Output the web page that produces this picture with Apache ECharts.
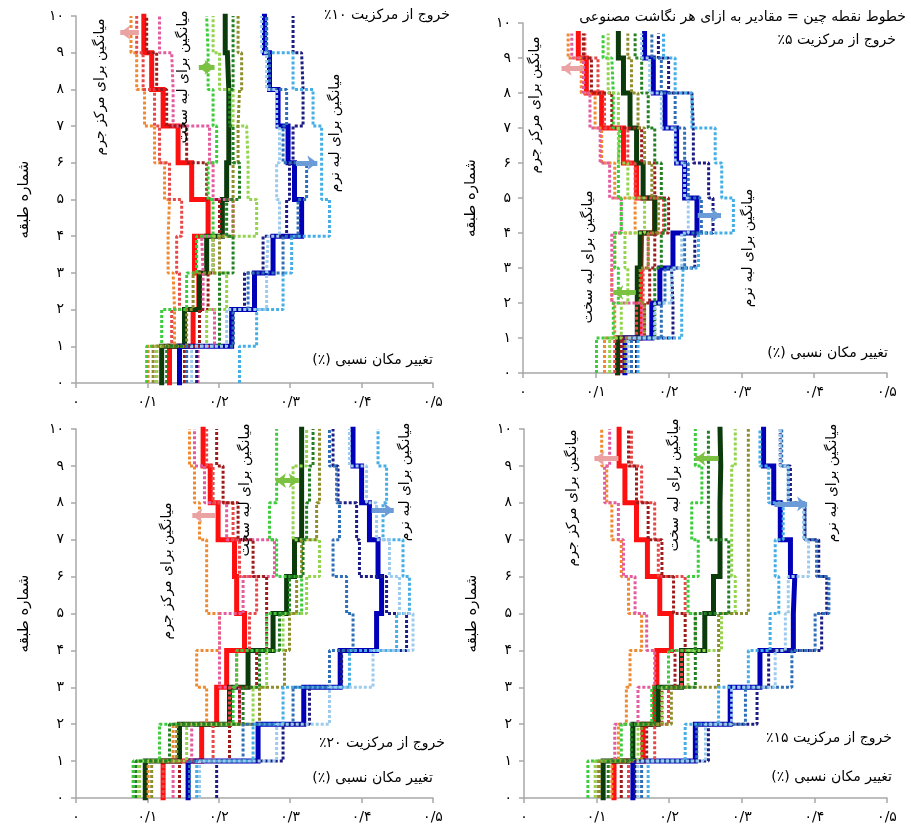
<!DOCTYPE html>
<html>
<head>
<meta charset="utf-8">
<script src="https://cdn.jsdelivr.net/npm/echarts@6/dist/echarts.min.js"></script>
<style>
html,body{margin:0;padding:0;background:#fff;}
#main{width:911px;height:828px;}
</style>
</head>
<body>
<div id="main" dir="rtl"></div>
<script>
// برچسب محورها
var xLabels = ['۰', '۰/۱', '۰/۲', '۰/۳', '۰/۴', '۰/۵'];
var yLabels = ['۰', '۱', '۲', '۳', '۴', '۵', '۶', '۷', '۸', '۹', '۱۰'];
var panelTitles = ['خروج از مرکزیت ۱۰٪', 'خروج از مرکزیت ۵٪', 'خروج از مرکزیت ۲۰٪', 'خروج از مرکزیت ۱۵٪'];
var topStory = [10, 9.7, 10, 10];

// میانگین ها (طبقه ۱ تا ۱۰)
var cm10 = [0.131, 0.164, 0.172, 0.166, 0.185, 0.162, 0.143, 0.122, 0.106, 0.095];
var stiff10 = [0.120, 0.152, 0.173, 0.183, 0.205, 0.211, 0.214, 0.214, 0.212, 0.209];
var flex10 = [0.145, 0.218, 0.250, 0.276, 0.316, 0.306, 0.297, 0.283, 0.271, 0.264];

var cm5 = [0.130, 0.161, 0.162, 0.163, 0.181, 0.156, 0.138, 0.108, 0.087, 0.076];
var stiff5 = [0.130, 0.157, 0.157, 0.161, 0.181, 0.165, 0.156, 0.147, 0.138, 0.131];
var flex5 = [0.140, 0.177, 0.188, 0.206, 0.239, 0.222, 0.211, 0.195, 0.179, 0.167];

var cm20 = [0.122, 0.176, 0.197, 0.211, 0.236, 0.225, 0.222, 0.199, 0.188, 0.178];
var stiff20 = [0.097, 0.145, 0.215, 0.241, 0.276, 0.295, 0.306, 0.316, 0.316, 0.316];
var flex20 = [0.157, 0.255, 0.319, 0.370, 0.421, 0.428, 0.423, 0.411, 0.400, 0.388];

var cm15 = [0.124, 0.164, 0.180, 0.183, 0.203, 0.187, 0.170, 0.155, 0.139, 0.131];
var stiff15 = [0.109, 0.150, 0.185, 0.217, 0.249, 0.261, 0.270, 0.270, 0.271, 0.270];
var flex15 = [0.150, 0.236, 0.284, 0.325, 0.371, 0.373, 0.367, 0.353, 0.344, 0.330];

// نگاشت های مصنوعی (خطوط نقطه چین)
var cmRec10 = [
    [0.101, 0.138, 0.136, 0.129, 0.131, 0.124, 0.110, 0.096, 0.085, 0.077],
    [0.171, 0.194, 0.178, 0.176, 0.220, 0.192, 0.187, 0.136, 0.134, 0.117],
    [0.113, 0.134, 0.145, 0.141, 0.148, 0.131, 0.117, 0.110, 0.094, 0.085],
    [0.152, 0.173, 0.185, 0.192, 0.201, 0.183, 0.155, 0.127, 0.113, 0.099]
];
var stiffRec10 = [
    [0.099, 0.120, 0.155, 0.169, 0.192, 0.185, 0.197, 0.192, 0.185, 0.183],
    [0.113, 0.183, 0.211, 0.192, 0.253, 0.241, 0.239, 0.220, 0.201, 0.192],
    [0.108, 0.155, 0.164, 0.201, 0.220, 0.220, 0.227, 0.229, 0.232, 0.227],
    [0.127, 0.201, 0.201, 0.220, 0.211, 0.229, 0.220, 0.215, 0.220, 0.220]
];
var flexRec10 = [
    [0.169, 0.220, 0.236, 0.262, 0.295, 0.299, 0.304, 0.318, 0.316, 0.304],
    [0.229, 0.253, 0.290, 0.302, 0.355, 0.344, 0.344, 0.332, 0.304, 0.267],
    [0.155, 0.220, 0.241, 0.290, 0.311, 0.323, 0.290, 0.295, 0.271, 0.267],
    [0.162, 0.211, 0.267, 0.269, 0.285, 0.281, 0.285, 0.281, 0.267, 0.260]
];

var cmRec5 = [
    [0.112, 0.126, 0.122, 0.126, 0.154, 0.126, 0.108, 0.099, 0.080, 0.062],
    [0.144, 0.163, 0.122, 0.122, 0.135, 0.119, 0.106, 0.092, 0.083, 0.067],
    [0.126, 0.156, 0.165, 0.172, 0.193, 0.154, 0.144, 0.112, 0.103, 0.085],
    [0.135, 0.167, 0.174, 0.181, 0.200, 0.181, 0.163, 0.122, 0.094, 0.083]
];
var stiffRec5 = [
    [0.101, 0.124, 0.131, 0.126, 0.135, 0.131, 0.133, 0.124, 0.122, 0.110],
    [0.119, 0.135, 0.144, 0.140, 0.167, 0.144, 0.131, 0.131, 0.117, 0.117],
    [0.140, 0.167, 0.161, 0.172, 0.186, 0.177, 0.167, 0.158, 0.149, 0.144],
    [0.156, 0.181, 0.181, 0.190, 0.195, 0.190, 0.181, 0.172, 0.163, 0.154]
];
var flexRec5 = [
    [0.156, 0.206, 0.204, 0.236, 0.261, 0.255, 0.234, 0.232, 0.200, 0.186],
    [0.158, 0.218, 0.220, 0.241, 0.289, 0.273, 0.264, 0.232, 0.209, 0.193],
    [0.149, 0.190, 0.195, 0.222, 0.245, 0.227, 0.222, 0.209, 0.190, 0.177],
    [0.144, 0.181, 0.204, 0.218, 0.227, 0.222, 0.209, 0.190, 0.174, 0.163]
];

var cmRec20 = [
    [0.101, 0.136, 0.183, 0.169, 0.201, 0.183, 0.183, 0.173, 0.166, 0.159],
    [0.136, 0.162, 0.229, 0.201, 0.201, 0.234, 0.278, 0.211, 0.180, 0.166],
    [0.122, 0.192, 0.215, 0.225, 0.243, 0.253, 0.229, 0.220, 0.192, 0.183],
    [0.145, 0.215, 0.229, 0.253, 0.267, 0.267, 0.248, 0.227, 0.206, 0.197]
];
var stiffRec20 = [
    [0.080, 0.117, 0.220, 0.225, 0.267, 0.316, 0.281, 0.271, 0.281, 0.281],
    [0.089, 0.155, 0.248, 0.267, 0.290, 0.323, 0.341, 0.304, 0.304, 0.323],
    [0.106, 0.141, 0.257, 0.292, 0.299, 0.309, 0.316, 0.337, 0.341, 0.341],
    [0.084, 0.131, 0.234, 0.257, 0.285, 0.299, 0.318, 0.323, 0.327, 0.332]
];
var flexRec20 = [
    [0.197, 0.290, 0.327, 0.372, 0.463, 0.435, 0.397, 0.393, 0.367, 0.360],
    [0.169, 0.248, 0.290, 0.383, 0.449, 0.467, 0.458, 0.430, 0.435, 0.423],
    [0.159, 0.234, 0.304, 0.355, 0.388, 0.379, 0.360, 0.369, 0.365, 0.355],
    [0.173, 0.281, 0.355, 0.416, 0.472, 0.453, 0.439, 0.421, 0.407, 0.383]
];

var cmRec15 = [
    [0.121, 0.130, 0.141, 0.146, 0.162, 0.144, 0.134, 0.121, 0.114, 0.107],
    [0.102, 0.125, 0.157, 0.180, 0.169, 0.153, 0.137, 0.130, 0.111, 0.118],
    [0.144, 0.180, 0.199, 0.217, 0.236, 0.222, 0.185, 0.180, 0.162, 0.148],
    [0.134, 0.169, 0.190, 0.208, 0.222, 0.206, 0.190, 0.171, 0.155, 0.144]
];
var stiffRec15 = [
    [0.088, 0.134, 0.176, 0.199, 0.236, 0.226, 0.240, 0.231, 0.245, 0.236],
    [0.098, 0.157, 0.190, 0.226, 0.272, 0.291, 0.286, 0.286, 0.286, 0.291],
    [0.104, 0.162, 0.203, 0.268, 0.268, 0.309, 0.309, 0.309, 0.309, 0.309],
    [0.116, 0.148, 0.180, 0.236, 0.236, 0.282, 0.282, 0.254, 0.254, 0.254]
];
var flexRec15 = [
    [0.153, 0.254, 0.321, 0.337, 0.410, 0.417, 0.406, 0.387, 0.367, 0.353],
    [0.171, 0.222, 0.268, 0.309, 0.339, 0.351, 0.346, 0.357, 0.337, 0.325],
    [0.162, 0.238, 0.305, 0.369, 0.401, 0.420, 0.403, 0.387, 0.364, 0.355],
    [0.157, 0.250, 0.286, 0.346, 0.360, 0.364, 0.392, 0.385, 0.364, 0.353]
];

// پیکان ها [x شروع, x پایان, y]
var arrowCM = [[0.088, 0.062, 9.55], [0.083, 0.053, 8.7], [0.196, 0.163, 7.65], [0.130, 0.097, 9.2]];
var arrowStiff = [[0.172, 0.194, 8.6], [0.155, 0.124, 2.3], [0.280, 0.312, 8.6], [0.268, 0.236, 9.2]];
var arrowFlex = [[0.308, 0.338, 6.0], [0.240, 0.272, 4.5], [0.414, 0.445, 7.8], [0.345, 0.390, 7.97]];
var stiffBothHead = [true, false, true, false];

var meanList = [[cm10, stiff10, flex10], [cm5, stiff5, flex5], [cm20, stiff20, flex20], [cm15, stiff15, flex15]];
var recList = [[cmRec10, stiffRec10, flexRec10], [cmRec5, stiffRec5, flexRec5], [cmRec20, stiffRec20, flexRec20], [cmRec15, stiffRec15, flexRec15]];

var meanColors = ['#ff1010', '#0b3a0b', '#0000b8'];
var recColors = [
    ['#f08a30', '#e45c9e', '#e84848', '#9e1c1c'],
    ['#3ccc3c', '#94d44e', '#8e8e2c', '#238023'],
    ['#1c1c84', '#45aee6', '#2f6fb8', '#9ccbee']
];
var arrowColors = ['#eaa2a2', '#7cc242', '#6c9cd8'];

var FONT = '"DejaVu Sans", sans-serif';

// نقاط پله ای از مقادیر طبقات
function stepData(vals, top) {
    var d = [];
    for (var i = 0; i < vals.length; i++) {
        var hi = (i == vals.length - 1) ? top : i + 1;
        d.push([vals[i], i]);
        d.push([vals[i], hi]);
    }
    return d;
}

var grids = [
    {left: 76, top: 16, width: 357, height: 367},
    {left: 523, top: 23, width: 364, height: 350},
    {left: 76, top: 429, width: 357, height: 369},
    {left: 524, top: 429, width: 363, height: 369}
];

var xAxes = [], yAxes = [], series = [];
grids.forEach(function (g, p) {
    xAxes.push({
        type: 'value', gridIndex: p, min: 0, max: 0.5, interval: 0.1,
        axisLine: {show: true, lineStyle: {color: '#a8a8a8', width: 1.5}},
        axisTick: {show: true, length: 5, lineStyle: {color: '#a8a8a8', width: 1.5}},
        splitLine: {show: false},
        axisLabel: {
            margin: 12, color: '#000', fontSize: 14, fontFamily: FONT,
            formatter: function (v) { return xLabels[Math.round(v * 10)]; }
        }
    });
    yAxes.push({
        type: 'value', gridIndex: p, min: 0, max: 10, interval: 1,
        name: 'شماره طبقه', nameLocation: 'middle', nameGap: 44, nameRotate: 90,
        nameTextStyle: {color: '#000', fontSize: 15, fontFamily: FONT},
        axisLine: {show: true, lineStyle: {color: '#a8a8a8', width: 1.5}},
        axisTick: {show: true, length: 5, lineStyle: {color: '#a8a8a8', width: 1.5}},
        splitLine: {show: false},
        axisLabel: {
            margin: 12, color: '#000', fontSize: 14, fontFamily: FONT,
            formatter: function (v) { return yLabels[Math.round(v)]; }
        }
    });

    var arrows = [arrowCM[p], arrowStiff[p], arrowFlex[p]];
    // خطوط میانگین
    for (var k = 0; k < 3; k++) {
        var a = arrows[k];
        var heads = (k == 1 && stiffBothHead[p]) ? ['arrow', 'arrow'] : ['none', 'arrow'];
        series.push({
            type: 'line', xAxisIndex: p, yAxisIndex: p,
            data: stepData(meanList[p][k], topStory[p]),
            symbol: 'none', z: 3,
            lineStyle: {color: meanColors[k], width: 5, cap: 'square', join: 'miter'},
            markLine: {
                silent: true, animation: false,
                symbol: heads, symbolSize: [11, 10],
                label: {show: false},
                lineStyle: {color: arrowColors[k], width: 5, type: 'solid'},
                data: [[{coord: [a[0], a[2]]}, {coord: [a[1], a[2]]}]]
            }
        });
    }
    // خطوط نقطه چین
    for (var k2 = 0; k2 < 3; k2++) {
        recList[p][k2].forEach(function (rec, r) {
            series.push({
                type: 'line', xAxisIndex: p, yAxisIndex: p,
                data: stepData(rec, topStory[p]),
                symbol: 'none', z: 4,
                lineStyle: {color: recColors[k2][r], width: 3, type: [3, 2]}
            });
        });
    }
});

function txt(s, x, y, align, rot, size) {
    return {
        type: 'text', x: x, y: y, rotation: rot || 0, z: 10,
        style: {
            text: s, fill: '#000', font: (size || 14) + 'px ' + FONT,
            align: align || 'right', verticalAlign: 'middle'
        }
    };
}

var R = Math.PI / 2;
var graphics = [
    txt(panelTitles[0], 450, 15, 'right'),
    txt('تغییر مکان نسبی (٪)', 433, 360, 'right'),
    txt('خطوط نقطه چین = مقادیر به ازای هر نگاشت مصنوعی', 906, 17, 'right'),
    txt(panelTitles[1], 896, 40, 'right'),
    txt('تغییر مکان نسبی (٪)', 888, 353, 'right'),
    txt(panelTitles[2], 445, 743, 'right'),
    txt('تغییر مکان نسبی (٪)', 433, 778, 'right'),
    txt(panelTitles[3], 892, 738, 'right'),
    txt('تغییر مکان نسبی (٪)', 892, 777, 'right'),

    txt('میانگین برای مرکز جرم', 100, 87, 'center', R),
    txt('میانگین برای لبه سخت', 183, 77, 'center', R),
    txt('میانگین برای لبه نرم', 335, 133, 'center', R),

    txt('میانگین برای مرکز جرم', 535, 105, 'center', R),
    txt('میانگین برای لبه سخت', 588, 257, 'center', R),
    txt('میانگین برای لبه نرم', 748, 248, 'center', R),

    txt('میانگین برای مرکز جرم', 167, 571, 'center', R),
    txt('میانگین برای لبه سخت', 245, 490, 'center', R),
    txt('میانگین برای لبه نرم', 405, 482, 'center', R),

    txt('میانگین برای مرکز جرم', 572, 498, 'center', R),
    txt('میانگین برای لبه سخت', 674, 485, 'center', R),
    txt('میانگین برای لبه نرم', 832, 483, 'center', R)
];

var myChart = echarts.init(document.getElementById('main'));
myChart.setOption({
    animation: false,
    backgroundColor: '#fff',
    grid: grids,
    xAxis: xAxes,
    yAxis: yAxes,
    series: series,
    graphic: graphics
});
</script>
</body>
</html>
